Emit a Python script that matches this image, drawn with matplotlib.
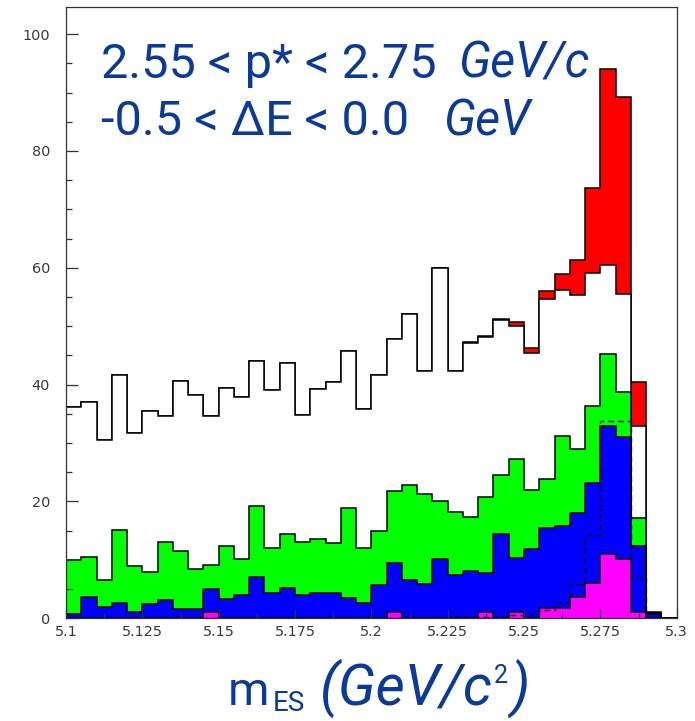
import numpy as np
import matplotlib
matplotlib.use("Agg")
import matplotlib.pyplot as plt
from matplotlib.ticker import MultipleLocator, FixedLocator, FixedFormatter

# m_ES bins: 40 bins of 5 MeV from 5.10 to 5.30
edges = np.linspace(5.10, 5.30, 41)

# stacked contents (top of each layer)
total = [36.1, 37.0, 30.6, 41.6, 31.7, 35.5, 34.6, 40.6, 38.3, 34.6,
         39.5, 37.9, 44.1, 39.1, 43.7, 34.8, 39.3, 40.4, 45.8, 35.8,
         41.7, 47.8, 52.1, 42.3, 60.0, 42.3, 47.3, 48.4, 51.3, 50.7,
         46.3, 56.0, 58.9, 61.3, 73.6, 94.1, 89.2, 40.4, 1.1, 0.0]
no_signal = [36.1, 37.0, 30.6, 41.6, 31.7, 35.5, 34.6, 40.6, 38.3, 34.6,
             39.5, 37.9, 44.1, 39.1, 43.7, 34.8, 39.3, 40.4, 45.8, 35.8,
             41.7, 47.8, 52.1, 42.3, 60.0, 42.3, 47.2, 48.2, 51.1, 50.1,
             45.5, 54.6, 56.2, 55.4, 59.1, 60.5, 55.6, 33.0, 0.9, 0.0]
green_top = [9.9, 10.5, 6.5, 15.1, 8.9, 8.0, 13.1, 11.6, 8.5, 9.1,
             12.4, 10.1, 19.3, 12.1, 14.4, 13.1, 13.6, 12.9, 18.8, 12.1,
             14.9, 21.8, 22.8, 21.3, 20.0, 18.2, 17.4, 20.7, 24.5, 27.3,
             21.9, 23.9, 31.2, 28.9, 36.4, 45.2, 38.8, 17.1, 0.7, 0.0]
blue_top = [0.8, 3.6, 1.9, 2.6, 1.1, 2.5, 3.2, 1.6, 1.6, 5.1,
            3.3, 4.0, 7.0, 4.4, 5.2, 4.0, 4.3, 4.3, 3.5, 2.7,
            5.7, 9.4, 6.6, 5.9, 10.1, 7.4, 8.1, 7.7, 14.5, 10.4,
            11.8, 15.4, 15.8, 18.1, 23.1, 32.9, 31.1, 12.4, 0.7, 0.0]
magenta_top = [0, 0, 0, 0, 0, 0, 0, 0, 0, 1.0,
               0, 0, 0, 0, 0, 0, 0, 0, 0, 0,
               0, 1.0, 0, 0, 0, 0, 0, 1.0, 0, 1.0,
               0, 1.8, 1.8, 3.6, 6.0, 11.0, 10.1, 1.0, 0, 0]
dashed = [0, 0, 0, 0, 0, 0, 0, 0, 0, 0,
          0, 0, 0, 0, 0, 0, 0, 0, 0, 0,
          0, 0, 0, 0, 0, 0.2, 0.3, 0.2, 0.3, 0.5,
          0.8, 1.5, 2.7, 5.9, 14.3, 33.8, 33.8, 7.1, 0, 0]

xticks = [5.1, 5.125, 5.15, 5.175, 5.2, 5.225, 5.25, 5.275, 5.3]
xticklabels = ["5.1", "5.125", "5.15", "5.175", "5.2", "5.225", "5.25", "5.275", "5.3"]

W, H = 695, 721
BLUE_TEXT = "#0a3a9c"

fig = plt.figure(figsize=(W / 100, H / 100), dpi=100)
ax = fig.add_axes([66 / W, (H - 618.3) / H, 610.7 / W, 611.6 / H])

lw = 1.1
layers = [(total, "#ff0000"), (no_signal, "white"), (green_top, "#00ff00"),
          (blue_top, "#0000ff"), (magenta_top, "#ff00ff")]
for vals, col in layers:
    ax.stairs(vals, edges, fill=True, facecolor=col, edgecolor="black",
              linewidth=lw)
ax.stairs(dashed, edges, fill=False, color="black", linewidth=1.0,
          linestyle=(0, (4, 3)))

ax.set_xlim(5.1, 5.3)
ax.set_ylim(0, 104.7)

ax.xaxis.set_major_locator(FixedLocator(xticks))
ax.xaxis.set_major_formatter(FixedFormatter(xticklabels))
ax.xaxis.set_minor_locator(MultipleLocator(0.0125))
ax.yaxis.set_major_locator(MultipleLocator(20))
ax.yaxis.set_minor_locator(MultipleLocator(5))

ax.tick_params(axis="both", which="both", direction="in", colors="#333333",
               width=0.9, top=False, right=False)
ax.tick_params(axis="x", which="major", length=6.5, pad=5)
ax.tick_params(axis="x", which="minor", length=3.6)
ax.tick_params(axis="y", which="major", length=8.6, pad=11.5)
ax.tick_params(axis="y", which="minor", length=4.3)
for lab in ax.get_xticklabels() + ax.get_yticklabels():
    lab.set_fontfamily("DejaVu Sans")
    lab.set_fontsize(10.4)
    lab.set_color("#3a3a3a")
for sp in ax.spines.values():
    sp.set_color("#333333")
    sp.set_linewidth(0.9)


def ftext(x, y, s, size, style="normal", family="Roboto"):
    # place text by pixel position (left, baseline) in the figure
    fig.text(x / W, 1 - y / H, s, fontsize=size, fontstyle=style,
             family=family, color=BLUE_TEXT, ha="left", va="baseline")


ftext(101, 78, "2.55 < p* < 2.75", 35)
ftext(458, 78, "GeV/c", 35, style="italic")
ftext(101, 135, "-0.5 < \u0394E < 0.0", 35)
ftext(443, 135, "GeV", 35, style="italic")

# x axis title
ftext(228, 705, "m", 34)
ftext(273, 711, "ES", 20)
ftext(320, 705, "(GeV/c", 41, style="italic")
ftext(494, 683, "2", 18)
ftext(510, 705, ")", 41, style="italic")

fig.savefig("out.png", dpi=100)
